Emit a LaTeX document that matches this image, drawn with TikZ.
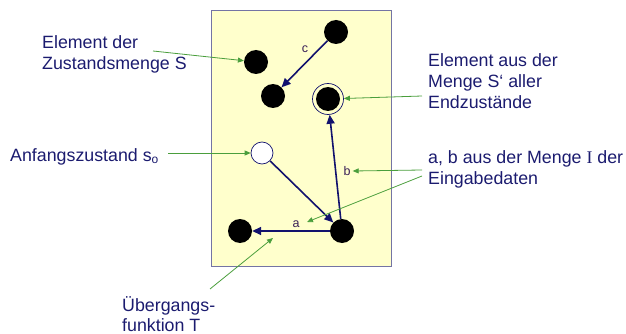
\documentclass[tikz,border=0pt]{standalone}
\usepackage{fontspec}
\setmainfont{Liberation Sans}
\newfontfamily\serifI{Liberation Serif}
\usetikzlibrary{arrows.meta}
\definecolor{navyT}{HTML}{1B1B6F}
\definecolor{navyA}{HTML}{12126E}
\definecolor{greenA}{HTML}{4A9E3C}
\definecolor{boxbg}{HTML}{FFFFCC}
\definecolor{boxline}{HTML}{7474A4}
\definecolor{lblc}{HTML}{3A2058}
\tikzset{
  lab/.style={text=navyT, font=\fontsize{17.8}{21}\selectfont, anchor=base west, inner sep=0pt},
  st/.style={circle, fill=black, minimum size=24pt, inner sep=0pt},
  startst/.style={circle, fill=white, draw=navyA, line width=0.7pt, minimum size=22pt, inner sep=0pt},
  ring/.style={circle, draw=navyA, line width=0.7pt, minimum size=31pt, inner sep=0pt},
  trans/.style={draw=navyA, line width=1.6pt, -{Triangle[length=9pt,width=8pt]}},
  point/.style={draw=greenA, line width=0.8pt, -{Triangle[length=6pt,width=5pt]}},
  small/.style={text=lblc, font=\fontsize{12.5}{14}\selectfont, inner sep=0pt}
}
\begin{document}
\begin{tikzpicture}[x=1pt,y=-1pt]
\useasboundingbox (0,0) rectangle (626,334);
\draw[boxline, fill=boxbg, line width=1pt] (211,11) rectangle (391,266);

% states
\node[st] (q1) at (336,32) {};
\node[st] (q2) at (256,62) {};
\node[st] (q3) at (273,96) {};
\node[ring] (fr) at (328,99) {};
\node[st] (qf) at (328,99) {};
\node[startst] (s0) at (262,153) {};
\node[st] (q4) at (342,231) {};
\node[st] (q5) at (240,231) {};

% transitions
\draw[trans] (q1) -- (q3);
\draw[trans] (s0) -- (q4);
\draw[trans] (q4) -- (fr);
\draw[trans] (q4) -- (q5);
\node[small] (lc) at (305,49) {c};
\node[small] (lb) at (347,171) {b};
\node[small] (la) at (296,224) {a};

% labels
\node[lab] (t1) at (42,49) {Element der};
\node[lab] (t2) at (42,70) {Zustandsmenge S};
\node[lab] (t3) at (10,161) {Anfangszustand s\raisebox{-0.25ex}{\fontsize{12}{14}\selectfont o}};
\node[lab] (t4) at (428,67) {Element aus der};
\node[lab] (t5) at (428,88) {Menge S‘ aller};
\node[lab] (t6) at (428,109) {Endzustände};
\node[lab] (t7) at (428,163) {a, b aus der Menge {\serifI I} der};
\node[lab] (t8) at (428,184) {Eingabedaten};
\node[lab] (t9) at (122,311) {Übergangs-};
\node[lab] (t10) at (122,331) {funktion T};

% pointers
\coordinate (p1) at (153,51);
\coordinate (p2) at (168,153);
\coordinate (p3) at (422,96);
\coordinate (p4) at (422,170);
\coordinate (p5) at (422,176);
\coordinate (p6) at (210,289);
\coordinate (ea) at (307,222);
\coordinate (et) at (273,238);
\draw[point] (p1) -- (q2);
\draw[point] (p2) -- (s0);
\draw[point] (p3) -- (fr);
\draw[point] (p4) -- ([xshift=2pt]lb.east);
\draw[point] (p5) -- (ea);
\draw[point] (p6) -- (et);
\end{tikzpicture}
\end{document}
